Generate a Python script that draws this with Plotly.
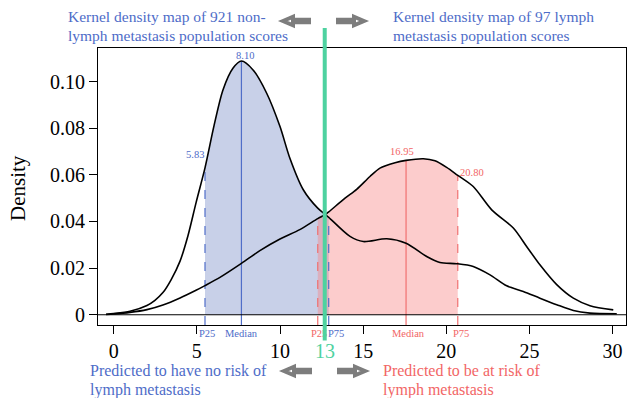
import plotly.graph_objects as go

# ---------------- data ----------------
blue_x = [-0.46, 0, 0.98, 2.0, 2.48, 2.96, 3.45, 3.99, 4.47, 4.95, 5.49, 6.03, 6.57, 7.17, 7.68,
          8.38, 9.2, 10.0, 10.6, 11.4, 12.27, 12.71, 12.93, 14.21, 15.01, 16.42, 17.58, 18.82,
          19.62, 20.62, 21.62, 22.63, 23.63, 24.63, 25.63, 26.64, 27.64, 28.64, 30.25]
blue_y = [0.0002, 0.0005, 0.0015, 0.004, 0.0062, 0.0095, 0.015, 0.023, 0.034, 0.048, 0.063, 0.081,
          0.0964, 0.1057, 0.1088, 0.105, 0.095, 0.0807, 0.067, 0.0536, 0.0457, 0.0431, 0.0418,
          0.0336, 0.0314, 0.0326, 0.0307, 0.025, 0.0224, 0.0219, 0.0207, 0.0171, 0.0124, 0.0100,
          0.0071, 0.0043, 0.0018, 0.0007, 0.0004]

red_x = [-0.46, 0, 0.98, 2.0, 2.96, 3.99, 4.95, 5.49, 6.39, 7.68, 8.79, 10.0, 11.19, 12.27, 12.71,
         12.93, 13.91, 14.61, 15.41, 16.01, 16.92, 17.58, 18.62, 19.32, 20.02, 20.69, 21.62, 22.73,
         24.03, 24.83, 25.63, 26.64, 27.64, 28.64, 30.04]
red_y = [0.0001, 0.0003, 0.001, 0.0022, 0.0042, 0.0072, 0.0105, 0.0125, 0.016, 0.022, 0.0275,
         0.0325, 0.0365, 0.0412, 0.0429, 0.0441, 0.050, 0.0538, 0.0593, 0.0629, 0.0652, 0.0662,
         0.0669, 0.0660, 0.0632, 0.0598, 0.055, 0.045, 0.0372, 0.0293, 0.0214, 0.0129, 0.0071,
         0.0039, 0.0021]

blue_q_x = [5.49, 7.68, 12.93]
red_q_x = [12.27, 17.58, 20.69]
q_lbl = ["P25", "Median", "P75"]
blue_q_val = ["5.83", "8.10", ""]
red_q_val = ["", "16.95", "20.80"]

cutoff_x = 12.69
cutoff_lbl = "13"
x_ticks = [0, 5, 10, 15, 20, 25, 30]
y_ticks = [0, 0.02, 0.04, 0.06, 0.08, 0.10]
y_tick_text = ["0", "0.02", "0.04", "0.06", "0.08", "0.10"]

txt_top_left = ["Kernel density map of 921 non-", "lymph metastasis population scores"]
txt_top_right = ["Kernel density map of 97 lymph", "metastasis population scores"]
txt_bot_left = ["Predicted to have no risk of", "lymph metastasis"]
txt_bot_right = ["Predicted to be at risk of", "lymph metastasis"]

# ---------------- style ----------------
W, H = 627, 398
ML, MR, MT, MB = 98, 1, 48, 73
FONT = "Liberation Serif"
BLUE_TXT = "rgb(78,108,200)"
RED_TXT = "rgb(242,102,102)"
BLUE_LINE = "rgb(80,110,200)"
RED_LINE = "rgb(240,112,112)"
GREEN = "rgb(78,210,160)"
GREY = "rgb(125,125,125)"
BLUE_FILL = "rgba(118,138,198,0.4)"
RED_FILL = "rgba(248,128,128,0.4)"
YMIN, YMAX = -0.0044, 0.1144
XMIN, XMAX = -0.944, 30.806

PW, PH = W - ML - MR, H - MT - MB


def px(xp):
    return (xp - ML) / PW


def py(yp):
    return (H - MB - yp) / PH


def subset(xs, ys, a, b):
    sx, sy = [], []
    for xv, yv in zip(xs, ys):
        if a <= xv <= b:
            sx.append(xv)
            sy.append(yv)
    return sx, sy


fig = go.Figure()

bx, by = subset(blue_x, blue_y, blue_q_x[0], blue_q_x[2])
fig.add_trace(go.Scatter(x=bx, y=by, mode="lines", line=dict(width=0, shape="spline", smoothing=0.8),
                         fill="tozeroy", fillcolor=BLUE_FILL, hoverinfo="skip"))
rx, ry = subset(red_x, red_y, red_q_x[0], red_q_x[2])
fig.add_trace(go.Scatter(x=rx, y=ry, mode="lines", line=dict(width=0, shape="spline", smoothing=0.8),
                         fill="tozeroy", fillcolor=RED_FILL, hoverinfo="skip"))

for qx, col, ys, xs in [(blue_q_x, BLUE_LINE, blue_y, blue_x), (red_q_x, RED_LINE, red_y, red_x)]:
    for i, q in enumerate(qx):
        top = ys[xs.index(q)]
        fig.add_trace(go.Scatter(x=[q, q], y=[YMIN, top], mode="lines",
                                 line=dict(color=col, width=1.2, dash="solid" if i == 1 else "dash"),
                                 hoverinfo="skip"))

fig.add_trace(go.Scatter(x=blue_x, y=blue_y, mode="lines",
                         line=dict(color="black", width=1.6, shape="spline", smoothing=0.8)))
fig.add_trace(go.Scatter(x=red_x, y=red_y, mode="lines",
                         line=dict(color="black", width=1.6, shape="spline", smoothing=0.8)))

ann = []
# quartile labels under the axis (drawn before the green cutoff line)
blue_shift = [2, 0, 7]
red_shift = [1, 2, 3]
for qx, col, shifts in [(red_q_x, RED_TXT, red_shift), (blue_q_x, BLUE_TXT, blue_shift)]:
    for q, lbl, s in zip(qx, q_lbl, shifts):
        ann.append(dict(x=q, y=py(333.5), xref="x", yref="paper", text=lbl, showarrow=False,
                        xanchor="center", yanchor="middle", xshift=s,
                        font=dict(family=FONT, size=10.5, color=col)))

# green cutoff line (annotation arrow so it covers the labels)
ann.append(dict(x=cutoff_x, y=py(28), xref="x", yref="paper", ax=0, ay=342 - 28,
                axref="pixel", ayref="pixel", text="", showarrow=True, arrowhead=0, arrowwidth=4,
                arrowcolor=GREEN, standoff=0, startstandoff=0))
ann.append(dict(x=cutoff_x, y=py(351), xref="x", yref="paper", text=cutoff_lbl, showarrow=False,
                xanchor="center", yanchor="middle", font=dict(family=FONT, size=20, color=GREEN)))

# value labels
val_style = [
    (blue_q_x, blue_y, blue_x, blue_q_val, BLUE_TXT,
     [("right", "bottom", 1, 6), ("center", "bottom", 4, -2), None]),
    (red_q_x, red_y, red_x, red_q_val, RED_TXT,
     [None, ("center", "bottom", -4, 1), ("left", "middle", 0, 3)]),
]
for qx, ys, xs, vals, col, st in val_style:
    for q, v, s in zip(qx, vals, st):
        if not v:
            continue
        xa, ya, xsft, ysft = s
        ann.append(dict(x=q, y=ys[xs.index(q)], xref="x", yref="y", text=v, showarrow=False,
                        xanchor=xa, yanchor=ya, xshift=xsft, yshift=ysft,
                        font=dict(family=FONT, size=10.5, color=col)))

# top and bottom captions
for lines, xp_, ys_, c, sz in [(txt_top_left, 66, (17, 35), BLUE_TXT, 15.5),
                               (txt_top_right, 391, (17, 35), BLUE_TXT, 15.5),
                               (txt_bot_left, 88, (370, 390), BLUE_TXT, 16),
                               (txt_bot_right, 381, (370, 390), RED_TXT, 16)]:
    for t, yy in zip(lines, ys_):
        ann.append(dict(x=px(xp_), y=py(yy), xref="paper", yref="paper", text=t, showarrow=False,
                        xanchor="left", yanchor="middle", align="left",
                        font=dict(family=FONT, size=sz, color=c)))

ann.append(dict(x=px(18), y=py(188), xref="paper", yref="paper", text="Density", showarrow=False,
                textangle=-90, xanchor="center", yanchor="middle",
                font=dict(family=FONT, size=21, color="black")))

shapes = [dict(type="line", xref="paper", yref="y", x0=0, x1=1, y0=0, y1=0,
               line=dict(color="black", width=1.2), layer="above")]


def arrow_path(x0, x1, yc, direction):
    head, h, bh = 10, 4.3, 1.2
    if direction == "left":
        tip, tail = x0 + 2, x1 - 2
        hb = tip + head
    else:
        tip, tail = x1 - 2, x0 + 2
        hb = tip - head
    pts = [(tip, yc), (hb, yc - h), (hb, yc - bh), (tail, yc - bh), (tail, yc + bh),
           (hb, yc + bh), (hb, yc + h)]
    return "M " + " L ".join(f"{px(a):.5f},{py(b):.5f}" for a, b in pts) + " Z"


for x0, x1, yc, d in [(281, 311, 21, "left"), (336, 366, 21, "right"),
                      (282, 312, 371, "left"), (337, 367, 371, "right")]:
    shapes.append(dict(type="path", xref="paper", yref="paper", path=arrow_path(x0, x1, yc, d),
                       line=dict(color=GREY, width=4), fillcolor="white", layer="above"))

fig.update_layout(
    width=W, height=H, margin=dict(l=ML, r=MR, t=MT, b=MB, pad=0),
    paper_bgcolor="white", plot_bgcolor="white", showlegend=False,
    annotations=ann, shapes=shapes,
    xaxis=dict(range=[XMIN, XMAX], tickvals=x_ticks, ticks="outside", ticklen=8, tickcolor="black",
               showline=True, mirror=True, linecolor="black", linewidth=1.2, showgrid=False,
               zeroline=False, tickfont=dict(family=FONT, size=20, color="black")),
    yaxis=dict(range=[YMIN, YMAX], tickvals=y_ticks, ticktext=y_tick_text, ticks="outside",
               ticklen=8, tickcolor="black", showline=True, mirror=True, linecolor="black",
               linewidth=1.2, showgrid=False, zeroline=False,
               tickfont=dict(family=FONT, size=20, color="black")),
)

fig.write_html("out.html")
